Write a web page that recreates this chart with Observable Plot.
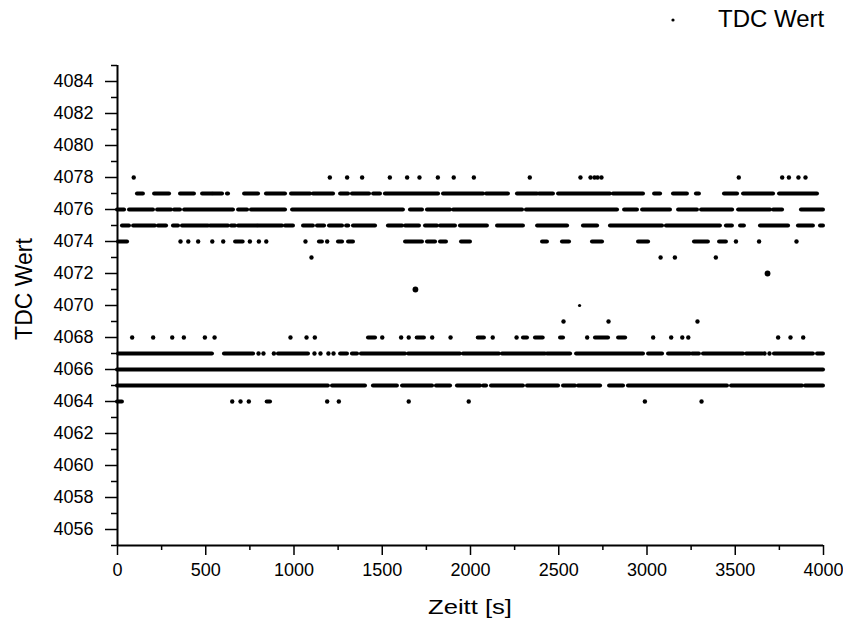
<!DOCTYPE html>
<html>
<head>
<meta charset="utf-8">
<script src="https://cdn.jsdelivr.net/npm/d3@7"></script>
<script src="https://cdn.jsdelivr.net/npm/@observablehq/plot@0.6"></script>
<style>
  html, body { margin: 0; padding: 0; background: white; }
</style>
</head>
<body>
<div id="chart"></div>
<script>
// Axis ticks
const xTicks = [0, 500, 1000, 1500, 2000, 2500, 3000, 3500, 4000];
const xMinorTicks = [250, 750, 1250, 1750, 2250, 2750, 3250, 3750];
const yTicks = [4056, 4058, 4060, 4062, 4064, 4066, 4068, 4070, 4072, 4074, 4076, 4078, 4080, 4082, 4084];
const yMinorTicks = [4055, 4057, 4059, 4061, 4063, 4065, 4067, 4069, 4071, 4073, 4075, 4077, 4079, 4081, 4083, 4085];

// Runs of consecutive measurements (start s, end s) per TDC value
const runs4077 = [[113,147],[210,295],[357,436],[482,538],[544,595],[623,629],[720,799],[844,952],[986,1094],[1110,1224],[1264,1309],[1331,1428],[1451,1490],[1518,1819],[1847,2074],[2091,2215],[2266,2380],[2391,2470],[2499,2793],[2810,2980],[3043,3077],[3150,3229],[3280,3297],[3439,3513],[3547,3717],[3751,3966]];
const runs4076 = [[0,40],[68,204],[227,306],[323,357],[380,657],[686,737],[759,952],[992,1620],[1660,1728],[1756,1887],[1904,2295],[2317,2833],[2873,2946],[2975,3133],[3179,3286],[3309,3485],[3519,3700],[3717,3768],[3875,4000]];
const runs4075 = [[28,68],[91,215],[232,278],[317,346],[368,516],[527,629],[646,669],[686,793],[799,935],[952,997],[1054,1110],[1133,1173],[1201,1275],[1298,1310],[1337,1462],[1535,1615],[1632,1711],[1745,1813],[1830,1915],[1943,2096],[2153,2300],[2380,2550],[2640,2720],[2793,3088],[3110,3416],[3450,3484],[3530,3552],[3643,3802],[3858,3943],[3983,4000]];
const runs4074 = [[6,57],[669,712],[1144,1161],[1252,1275],[1309,1337],[1632,1728],[1756,1802],[1830,1864],[1949,2000],[2408,2436],[2521,2561],[2691,2748],[2952,3009],[3269,3348],[3411,3450]];
const runs4068 = [[1422,1462],[1698,1739],[2044,2079],[2300,2323],[2368,2412],[2510,2527],[2708,2782],[2839,2879]];
const runs4067 = [[6,538],[606,771],[912,1082],[1264,1303],[1331,1360],[1382,1632],[1649,1943],[1960,2164],[2181,2425],[2436,2567],[2601,2980],[3009,3088],[3122,3246],[3258,3297],[3320,3547],[3564,3655],[3722,3943],[3966,4000]];
const runs4066 = [[0,4000]];
const runs4065 = [[0,1195],[1218,1405],[1450,1586],[1615,1785],[1807,1887],[1926,2057],[2074,2091],[2119,2300],[2323,2499],[2527,2595],[2612,2737],[2788,2867],[2895,3456],[3479,3881],[3898,4000]];
const runs4064 = [[0,28],[848,867]];

// Isolated measurements (s) per TDC value
const dots4078 = [92,1203,1301,1386,1543,1641,1711,1815,1905,2019,2336,2623,2680,2703,2720,2742,3520,3766,3804,3858,3898];
const dots4074 = [357,401,457,537,599,750,801,843,1065,1188,3504,3635,3847];
const dots4073 = [1099,3077,3158,3390];
const dots4072 = [3683];
const dots4071 = [1688];
const dots4070 = [2618];
const dots4069 = [2527,2782,3286];
const dots4068 = [83,202,310,376,495,550,980,1071,1118,1500,1607,1650,1783,1887,2126,2261,2661,3035,3137,3200,3234,3743,3813,3885];
const dots4067 = [799,827,886,1116,1150,1195,1224,3666,3694];
const dots4064 = [650,697,744,1188,1254,1650,1990,2988,3309];

const runRows = [
  [4077, runs4077], [4076, runs4076], [4075, runs4075], [4074, runs4074],
  [4068, runs4068], [4067, runs4067], [4066, runs4066], [4065, runs4065], [4064, runs4064]
];
const segs = runRows.flatMap(([y, rs]) => rs.map(([x1, x2]) => ({y, x1, x2})));

const dotRows = [
  [4078, dots4078], [4074, dots4074], [4073, dots4073], [4069, dots4069],
  [4068, dots4068], [4067, dots4067], [4064, dots4064]
];
const pts = dotRows.flatMap(([y, xs]) => xs.map(x => ({x, y})));
const bigPts = [...dots4072.map(x => ({x, y: 4072})), ...dots4071.map(x => ({x, y: 4071}))];
const smallPts = dots4070.map(x => ({x, y: 4070}));

const plot = Plot.plot({
  width: 843,
  height: 622,
  marginTop: 65,
  marginBottom: 77,
  marginLeft: 117,
  marginRight: 20,
  style: {fontFamily: "'Liberation Sans', Arial, sans-serif", fontSize: "18px", background: "white", color: "black"},
  x: {domain: [0, 4000]},
  y: {domain: [4055, 4085]},
  marks: [
    Plot.axisX(xTicks, {tickSize: 10, tickPadding: 8, strokeWidth: 1.5, tickFormat: d => String(d), label: null}),
    Plot.axisX(xMinorTicks, {tickSize: 5, strokeWidth: 1.5, tickFormat: () => "", label: null}),
    Plot.axisY(yTicks, {tickSize: 12, tickPadding: 12, strokeWidth: 1.5, tickFormat: d => String(d), label: null}),
    Plot.axisY(yMinorTicks, {tickSize: 6, strokeWidth: 1.5, tickFormat: () => "", label: null}),
    Plot.ruleY(segs, {y: "y", x1: "x1", x2: "x2", stroke: "black", strokeWidth: 4, strokeLinecap: "round"}),
    Plot.dot(pts, {x: "x", y: "y", r: 2.2, fill: "black", stroke: null}),
    Plot.dot(bigPts, {x: "x", y: "y", r: 2.9, fill: "black", stroke: null}),
    Plot.dot(smallPts, {x: "x", y: "y", r: 1.6, fill: "black", stroke: null}),
    Plot.ruleX([0], {stroke: "black", strokeWidth: 2}),
    Plot.ruleY([4055], {stroke: "black", strokeWidth: 2})
  ]
});

const svg = d3.select(plot);
// axis titles
svg.append("text")
  .attr("x", 470).attr("y", 614)
  .attr("text-anchor", "middle")
  .attr("font-size", 20)
  .attr("textLength", 84).attr("lengthAdjust", "spacingAndGlyphs")
  .attr("fill", "black")
  .text("Zeitt [s]");
svg.append("text")
  .attr("transform", "translate(32,289) rotate(-90)")
  .attr("text-anchor", "middle")
  .attr("font-size", 23)
  .attr("fill", "black")
  .text("TDC Wert");
// legend
svg.append("circle").attr("cx", 673).attr("cy", 20).attr("r", 1.6).attr("fill", "black");
svg.append("text")
  .attr("x", 718).attr("y", 27)
  .attr("text-anchor", "start")
  .attr("font-size", 24)
  .attr("fill", "black")
  .text("TDC Wert");

document.getElementById("chart").appendChild(plot);
</script>
</body>
</html>
